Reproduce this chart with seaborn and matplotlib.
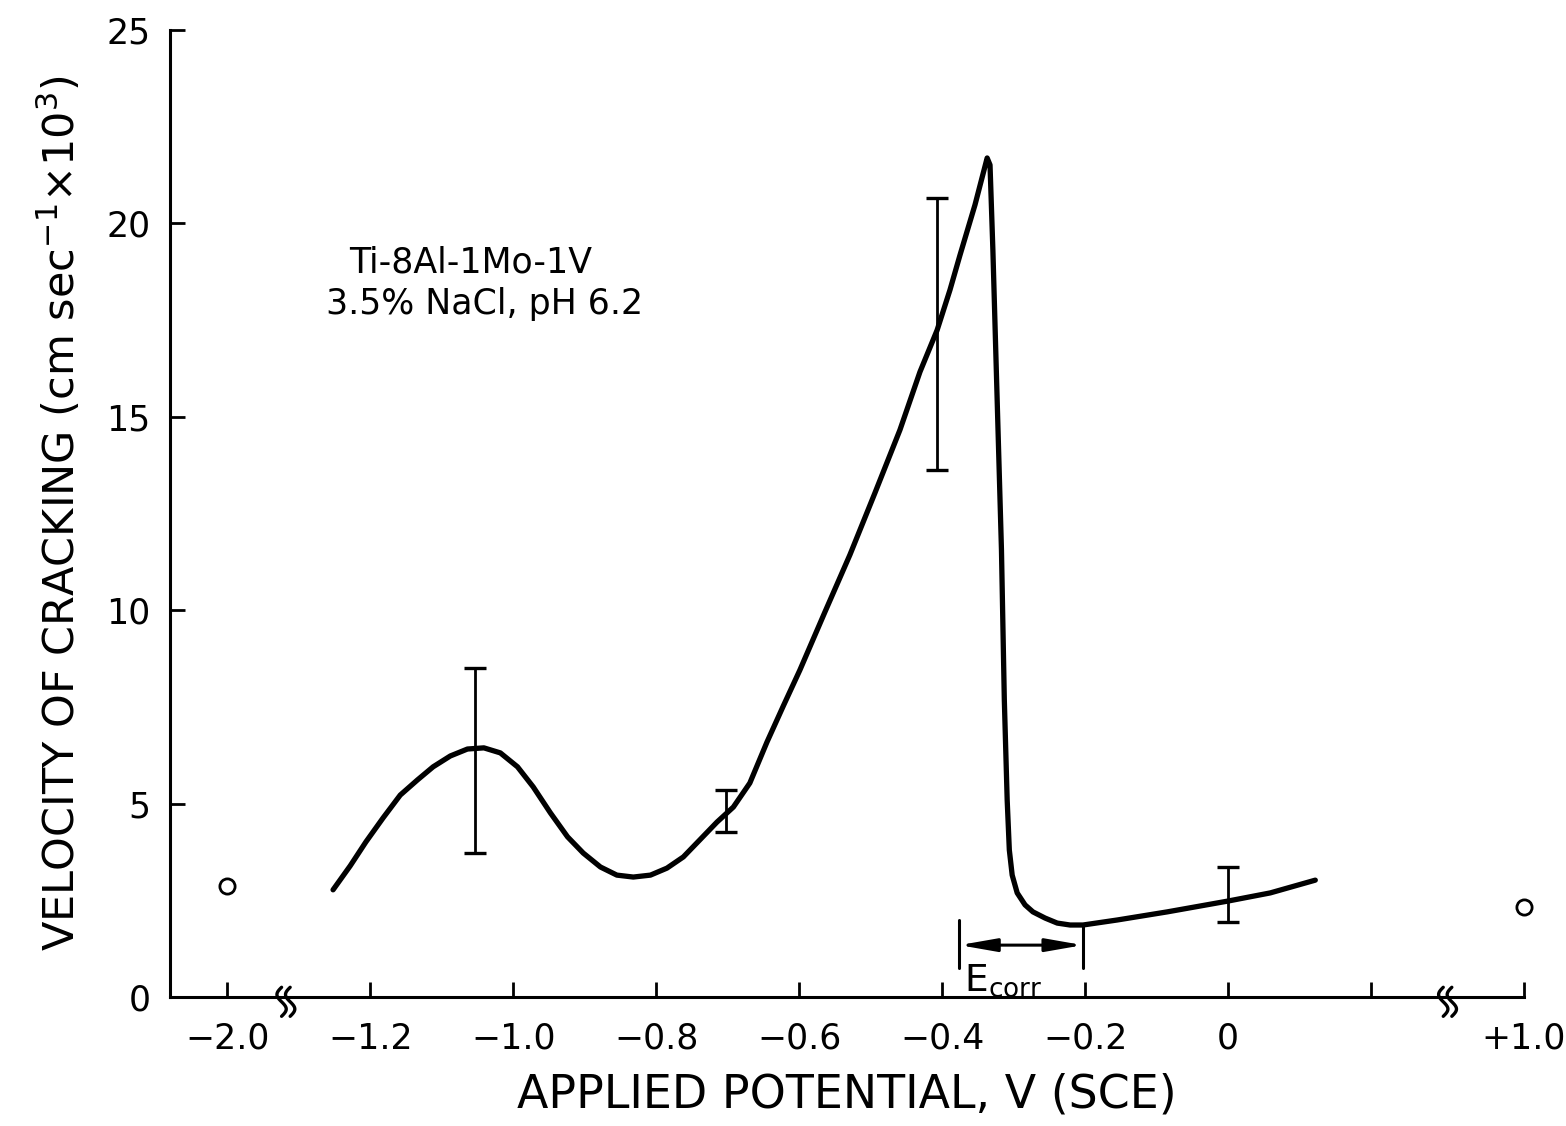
import numpy as np
import pandas as pd
import matplotlib
matplotlib.use('Agg')
import matplotlib.pyplot as plt
import seaborn as sns

# curve: potential (V vs SCE) and crack velocity (cm/s x 10^3)
curve_v = [-1.252, -1.228, -1.206, -1.182, -1.158, -1.134, -1.112, -1.088, -1.064,
           -1.041, -1.018, -0.994, -0.972, -0.948, -0.924, -0.902, -0.878, -0.855,
           -0.832, -0.808, -0.785, -0.762, -0.739, -0.715, -0.692, -0.669, -0.645,
           -0.622, -0.599, -0.564, -0.529, -0.494, -0.459, -0.431, -0.407, -0.389,
           -0.375, -0.354, -0.337, -0.333, -0.329, -0.323, -0.317, -0.313, -0.309,
           -0.306, -0.302, -0.295, -0.284, -0.273, -0.256, -0.239, -0.221, -0.203,
           -0.155, -0.085, 0.0, 0.059, 0.122]
curve_vel = [2.77, 3.39, 4.01, 4.63, 5.22, 5.61, 5.95, 6.23, 6.41,
             6.44, 6.31, 5.95, 5.43, 4.76, 4.14, 3.72, 3.36, 3.15,
             3.10, 3.15, 3.33, 3.62, 4.06, 4.52, 4.91, 5.53, 6.59,
             7.53, 8.45, 9.95, 11.43, 13.03, 14.66, 16.16, 17.24, 18.28,
             19.18, 20.48, 21.69, 21.51, 19.31, 15.43, 11.56, 7.68, 5.09,
             3.80, 3.15, 2.69, 2.38, 2.20, 2.04, 1.91, 1.86, 1.86,
             1.99, 2.20, 2.48, 2.69, 3.02]

# scatter bands
err_v = [-1.053, -0.702, -0.407, 0.0]
err_lo = [3.72, 4.27, 13.62, 1.94]
err_hi = [8.51, 5.35, 20.66, 3.36]

# isolated points beyond the axis breaks
iso_v = [-2.0, 1.0]
iso_vel = [2.87, 2.33]

# E_corr range
ecorr_v = [-0.376, -0.203]

tick_v = [-2.0, -1.2, -1.0, -0.8, -0.6, -0.4, -0.2, 0.0, 0.2, 1.0]
tick_labels = ['\u22122.0', '\u22121.2', '\u22121.0', '\u22120.8', '\u22120.6',
               '\u22120.4', '\u22120.2', '0', '', '+1.0']


def axis_pos(v):
    # broken axis: -2.0 sits where -1.4 would be, +1.0 where ~0.414 would be
    v = np.asarray(v, dtype=float)
    return np.where(v <= -1.3, v + 0.6, np.where(v >= 0.4, v - 0.586, v))


sns.set_theme(style='ticks')
plt.rcParams['font.family'] = ['DejaVu Sans']
plt.rcParams['text.color'] = 'black'
plt.rcParams['axes.labelcolor'] = 'black'

fig = plt.figure(figsize=(15.66, 11.26), dpi=100)
ax = fig.add_axes([0.1086, 0.1146, 0.8646, 0.8588])

df = pd.DataFrame({'x': axis_pos(curve_v), 'y': curve_vel})
sns.lineplot(data=df, x='x', y='y', sort=False, color='black', linewidth=3.8,
             ax=ax, solid_joinstyle='round', solid_capstyle='round')

err_x = axis_pos(err_v)
mid = (np.array(err_lo) + np.array(err_hi)) / 2
half = (np.array(err_hi) - np.array(err_lo)) / 2
ax.errorbar(err_x, mid, yerr=half, fmt='none', ecolor='black', elinewidth=2.0,
            capsize=8, capthick=2.4)

iso = pd.DataFrame({'x': axis_pos(iso_v), 'y': iso_vel})
sns.scatterplot(data=iso, x='x', y='y', ax=ax, s=120, facecolor='white',
                edgecolor='black', linewidth=2.0, zorder=5, clip_on=False)

# E_corr marker
ex = axis_pos(ecorr_v)
ax.plot([ex[0], ex[0]], [0.75, 1.99], color='black', lw=2.2)
ax.plot([ex[1], ex[1]], [0.75, 1.86], color='black', lw=2.2)
ax.annotate('', xy=(ex[0], 1.34), xytext=(ex[1], 1.34),
            arrowprops=dict(arrowstyle='<|-|>,head_length=0.8,head_width=0.14',
                            color='black', lw=2.2, mutation_scale=28,
                            shrinkA=0, shrinkB=0))
ax.text(ex[0] + 0.006, -0.05, r'$\mathregular{E_{corr}}$', fontsize=27,
        ha='left', va='bottom')

ax.text(-1.06, 19.0, 'Ti-8Al-1Mo-1V', fontsize=25, ha='center', va='center')
ax.text(-1.04, 17.92, '3.5% NaCl, pH 6.2', fontsize=25, ha='center', va='center')

ax.set_xlim(-1.48, 0.414)
ax.set_ylim(0, 25)
ax.set_xticks(axis_pos(tick_v))
ax.set_xticklabels(tick_labels)
ax.set_yticks([0, 5, 10, 15, 20, 25])
ax.set_yticklabels(['0', '5', '10', '15', '20', '25'])
ax.tick_params(axis='both', direction='in', length=11, width=2.0, labelsize=25,
               colors='black')
ax.tick_params(axis='x', pad=18)
ax.tick_params(axis='y', pad=14)

sns.despine(ax=ax)
for s in ['left', 'bottom']:
    ax.spines[s].set_linewidth(2.2)
    ax.spines[s].set_color('black')

# axis break squiggles
tr = ax.get_xaxis_transform()
t = np.linspace(0, 1, 40)
for xb in [-1.324, 0.301]:
    for dx in [0.0, 0.012]:
        xs = xb + dx + 0.0065 * np.sin(2 * np.pi * t)
        ys = -0.02 + 0.03 * t
        ax.plot(xs, ys, color='black', lw=2.4, transform=tr, clip_on=False)

ax.set_xlabel('APPLIED POTENTIAL, V (SCE)', fontsize=33, labelpad=12)
ax.set_ylabel(r'VELOCITY OF CRACKING (cm sec$^{-1}$$\times$10$^{3}$)',
              fontsize=31, labelpad=16)

fig.savefig('out.png', dpi=100, facecolor='white')
